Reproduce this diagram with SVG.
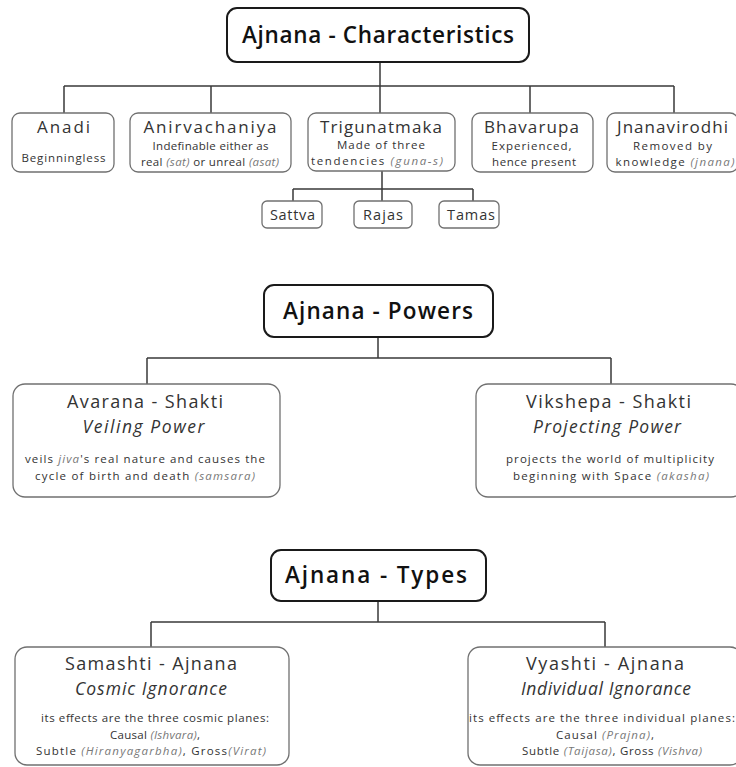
<svg xmlns="http://www.w3.org/2000/svg" width="736" height="767" viewBox="0 0 736 767">
  <style>
    .bg { fill: #ffffff; }
    .head rect { fill: #ffffff; stroke: #1a1a1a; stroke-width: 2; }
    .head text { font-family: "Open Sans", "DejaVu Sans", sans-serif; font-weight: 600; font-size: 22.5px; fill: #111111; text-anchor: middle; }
    .node rect { fill: #ffffff; stroke: #707070; stroke-width: 1.3; }
    .node text { font-family: "Open Sans", "DejaVu Sans", sans-serif; fill: #333333; text-anchor: middle; }
    .name { font-size: 17px; }
    .sub { font-size: 11.5px; }
    .gname { font-size: 14.5px; }
    .pname { font-size: 18px; }
    .role { font-size: 17.5px; font-style: italic; fill: #444444; }
    .desc { font-size: 11.5px; }
    .it { font-style: italic; fill: #777777; }
    .links path { fill: none; stroke: #3a3a3a; stroke-width: 1.5; }
  </style>
  <rect class="bg" x="0" y="0" width="736" height="767"/>

  <!-- connectors -->
  <g class="links" id="connectors">
    <!-- characteristics -->
    <path d="M380 62 V86 M64 86 H674 M64 86 V113 M211 86 V113 M380 86 V113 M530 86 V113 M674 86 V113"/>
    <!-- three tendencies -->
    <path d="M382 171 V189 M293 189 H473 M293 189 V201 M382 189 V201 M473 189 V201"/>
    <!-- powers -->
    <path d="M378 337 V358 M147 358 H611 M147 358 V384 M611 358 V384"/>
    <!-- types -->
    <path d="M378 601 V622 M151 622 H605 M151 622 V647 M605 622 V647"/>
  </g>

  <!-- section 1: characteristics -->
  <g class="head" id="characteristics">
    <rect x="227" y="8" width="302" height="54" rx="10"/>
    <text x="378" y="43" textLength="272" lengthAdjust="spacing">Ajnana - Characteristics</text>
  </g>
  <g class="node" id="anadi">
    <rect x="12" y="113" width="102" height="59" rx="8"/>
    <text class="name" x="63.5" y="133" textLength="53" lengthAdjust="spacing">Anadi</text>
    <text class="sub" x="63.5" y="162" textLength="84" lengthAdjust="spacing">Beginningless</text>
  </g>
  <g class="node" id="anirvachaniya">
    <rect x="130" y="113" width="161" height="59" rx="8"/>
    <text class="name" x="210" y="133" textLength="133" lengthAdjust="spacing">Anirvachaniya</text>
    <text class="sub" x="210.5" y="150" textLength="116" lengthAdjust="spacing">Indefinable either as</text>
    <text class="sub" x="210" y="166" textLength="138" lengthAdjust="spacing">real <tspan class="it">(sat)</tspan> or unreal <tspan class="it">(asat)</tspan></text>
  </g>
  <g class="node" id="trigunatmaka">
    <rect x="308" y="113" width="147" height="58" rx="8"/>
    <text class="name" x="381" y="133" textLength="122" lengthAdjust="spacing">Trigunatmaka</text>
    <text class="sub" x="381" y="149" textLength="88" lengthAdjust="spacing">Made of three</text>
    <text class="sub" x="377" y="165" textLength="132" lengthAdjust="spacing">tendencies <tspan class="it">(guna-s)</tspan></text>
  </g>
  <g class="node" id="bhavarupa">
    <rect x="472" y="113" width="121" height="59" rx="8"/>
    <text class="name" x="531.5" y="133" textLength="95" lengthAdjust="spacing">Bhavarupa</text>
    <text class="sub" x="531.5" y="150" textLength="80" lengthAdjust="spacing">Experienced,</text>
    <text class="sub" x="534" y="166" textLength="84" lengthAdjust="spacing">hence present</text>
  </g>
  <g class="node" id="jnanavirodhi">
    <rect x="607" y="113" width="131" height="59" rx="8"/>
    <text class="name" x="672.5" y="133" textLength="111" lengthAdjust="spacing">Jnanavirodhi</text>
    <text class="sub" x="672.5" y="150" textLength="79" lengthAdjust="spacing">Removed by</text>
    <text class="sub" x="675" y="166" textLength="119" lengthAdjust="spacing">knowledge <tspan class="it">(jnana)</tspan></text>
  </g>
  <g class="node" id="sattva">
    <rect x="262" y="201" width="60" height="27" rx="5"/>
    <text class="gname" x="292.5" y="219.5" textLength="45" lengthAdjust="spacing">Sattva</text>
  </g>
  <g class="node" id="rajas">
    <rect x="354" y="201" width="58" height="27" rx="5"/>
    <text class="gname" x="383" y="219.5" textLength="40" lengthAdjust="spacing">Rajas</text>
  </g>
  <g class="node" id="tamas">
    <rect x="439" y="201" width="60" height="27" rx="5"/>
    <text class="gname" x="471" y="219.5" textLength="48" lengthAdjust="spacing">Tamas</text>
  </g>

  <!-- section 2: powers -->
  <g class="head" id="powers">
    <rect x="264" y="285" width="229" height="52" rx="10"/>
    <text x="378" y="319" textLength="190" lengthAdjust="spacing">Ajnana - Powers</text>
  </g>
  <g class="node" id="avarana">
    <rect x="13" y="384" width="267" height="113" rx="12"/>
    <text class="pname" x="145" y="408" textLength="156" lengthAdjust="spacing">Avarana - Shakti</text>
    <text class="role" x="143.5" y="433" textLength="122" lengthAdjust="spacing">Veiling Power</text>
    <text class="desc" x="145" y="463" textLength="240" lengthAdjust="spacing">veils <tspan class="it">jiva</tspan>'s real nature and causes the</text>
    <text class="desc" x="145" y="480" textLength="220" lengthAdjust="spacing">cycle of birth and death <tspan class="it">(samsara)</tspan></text>
  </g>
  <g class="node" id="vikshepa">
    <rect x="476" y="384" width="267" height="113" rx="12"/>
    <text class="pname" x="608.5" y="408" textLength="165" lengthAdjust="spacing">Vikshepa - Shakti</text>
    <text class="role" x="607" y="433" textLength="148" lengthAdjust="spacing">Projecting Power</text>
    <text class="desc" x="610" y="463" textLength="208" lengthAdjust="spacing">projects the world of multiplicity</text>
    <text class="desc" x="611" y="480" textLength="196" lengthAdjust="spacing">beginning  with Space <tspan class="it">(akasha)</tspan></text>
  </g>

  <!-- section 3: types -->
  <g class="head" id="types">
    <rect x="271" y="550" width="215" height="51" rx="10"/>
    <text x="376" y="583" textLength="182" lengthAdjust="spacing">Ajnana - Types</text>
  </g>
  <g class="node" id="samashti">
    <rect x="15" y="647" width="274" height="118" rx="12"/>
    <text class="pname" x="151" y="670" textLength="172" lengthAdjust="spacing">Samashti - Ajnana</text>
    <text class="role" x="151" y="695" textLength="152" lengthAdjust="spacing">Cosmic Ignorance</text>
    <text class="desc" x="155" y="722" textLength="228" lengthAdjust="spacing">its effects are the three cosmic planes:</text>
    <text class="desc" x="155" y="739" textLength="90" lengthAdjust="spacing">Causal <tspan class="it">(Ishvara)</tspan>,</text>
    <text class="desc" x="151" y="755" textLength="230" lengthAdjust="spacing">Subtle <tspan class="it">(Hiranyagarbha)</tspan>, Gross<tspan class="it">(Virat)</tspan></text>
  </g>
  <g class="node" id="vyashti">
    <rect x="468" y="647" width="274" height="118" rx="12"/>
    <text class="pname" x="605" y="670" textLength="158" lengthAdjust="spacing">Vyashti - Ajnana</text>
    <text class="role" x="606" y="695" textLength="170" lengthAdjust="spacing">Individual Ignorance</text>
    <text class="desc" x="602" y="722" textLength="266" lengthAdjust="spacing">its effects are the three individual planes:</text>
    <text class="desc" x="605" y="739" textLength="98" lengthAdjust="spacing">Causal <tspan class="it">(Prajna)</tspan>,</text>
    <text class="desc" x="612" y="755" textLength="180" lengthAdjust="spacing">Subtle <tspan class="it">(Taijasa)</tspan>, Gross <tspan class="it">(Vishva)</tspan></text>
  </g>
</svg>
